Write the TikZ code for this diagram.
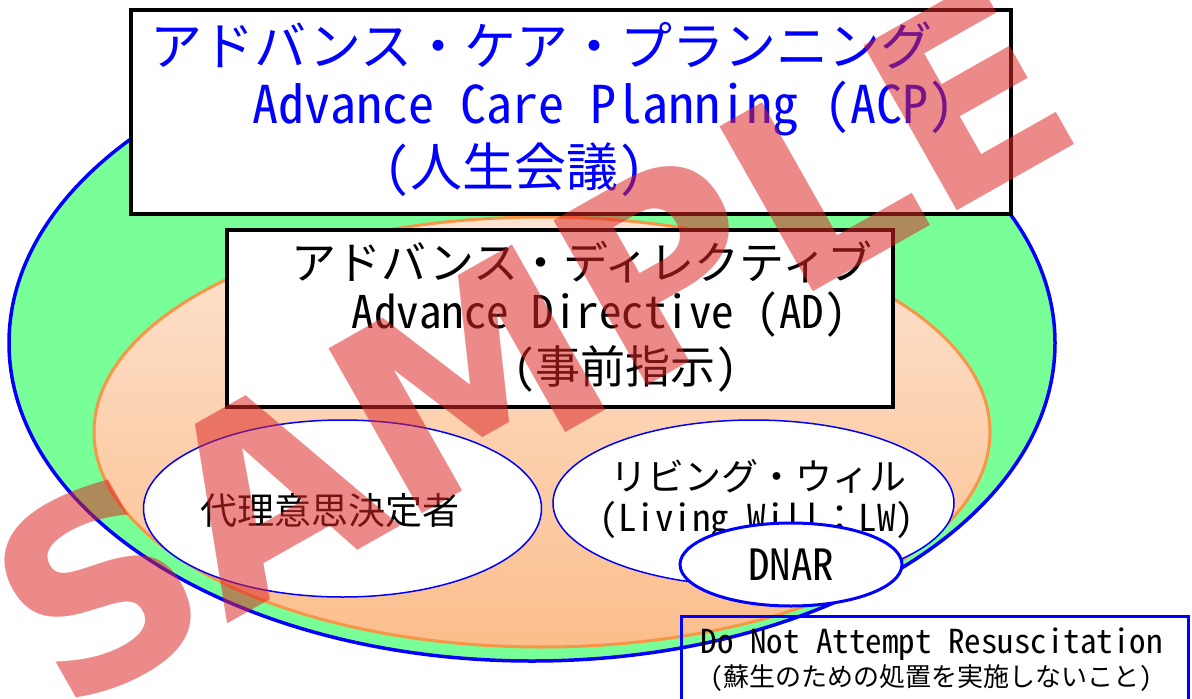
\documentclass[tikz,border=0pt]{standalone}
\usepackage{fontspec}
\usetikzlibrary{shapes.geometric}
\newfontfamily\jpfont{Noto Sans CJK JP}
\newfontfamily\halfw{Noto Sans CJK JP}[RawFeature=+hwid]
\newfontfamily\markfont{DejaVu Sans}
\newcommand\jpsize[1]{\fontsize{#1}{#1}\selectfont}
\definecolor{acpgreen}{RGB}{121,255,151}
\definecolor{adorange}{RGB}{247,150,70}
\definecolor{adtop}{RGB}{253,228,210}
\definecolor{adbottom}{RGB}{251,190,140}
\definecolor{markred}{RGB}{220,37,37}
\tikzset{font=\jpfont}
\tikzset{
  box/.style={rectangle, draw=black, line width=4pt, fill=white, inner sep=0},
  wish/.style={ellipse, draw=blue, line width=1.5pt, fill=white, inner sep=0},
  acpline/.style={inner sep=0, text=blue, font=\jpfont\jpsize{52}},
  adline/.style={inner sep=0, font=\jpfont\jpsize{45}},
  wishline/.style={inner sep=0, font=\jpfont\jpsize{37}},
}

\begin{document}
\begin{tikzpicture}[x=1pt, y=-1pt]
  \useasboundingbox[fill=white] (0,0) rectangle (1192,699);

  % the two zones
  \node[ellipse, draw=blue, line width=3.5pt, fill=acpgreen, inner sep=0,
    minimum width=1046pt, minimum height=636pt] (acpzone) at (532,343) {};
  \node[ellipse, draw=adorange, line width=3pt, top color=adtop,
    bottom color=adbottom, inner sep=0,
    minimum width=896pt, minimum height=430pt] (adzone) at (542,432) {};

  % ACP
  \node[box, minimum width=880pt, minimum height=204pt] (acp) at (571,112) {};
  \node[acpline] (acpjp) at (541.5,45) {アドバンス・ケア・プランニング};
  \node[acpline] (acpen) at (603,109) {\halfw Advance Care Planning (ACP)};
  \node[acpline] (acpkanji) at (514,170) {{\halfw(}人生会議{\halfw)}};

  % AD
  \node[box, minimum width=666pt, minimum height=177pt] (ad) at (560,318.5) {};
  \node[adline] (adjp) at (582,262) {アドバンス・ディレクティブ};
  \node[adline] (aden) at (599,315) {\halfw Advance Directive (AD)};
  \node[adline] (adkanji) at (625.5,369) {{\halfw(}事前指示{\halfw)}};

  % proxy and living will
  \node[wish, minimum width=398pt, minimum height=177pt] (proxy) at (342.5,508.5) {};
  \node[wishline] (proxytext) at (330,511) {代理意思決定者};
  \node[wish, minimum width=401pt, minimum height=166pt] (lw) at (753.5,503) {};
  \node[wishline] (lwjp) at (758.5,476) {リビング・ウィル};
  \node[wishline] (lwen) at (757,521) {{\halfw(Living Will}：{\halfw LW)}};

  \node[wish, line width=3pt, minimum width=222pt, minimum height=83pt,
    font=\halfw\jpsize{43}] (dnar) at (791,564.5) {DNAR};

  \node[rectangle, draw=blue, line width=3pt, inner sep=0,
    minimum width=507pt, minimum height=100pt] (dnbox) at (934.5,666) {};
  \node[inner sep=0, font=\halfw\jpsize{33}] (dnen) at (931.5,644)
    {Do Not Attempt Resuscitation};
  \node[inner sep=0, font=\jpfont\jpsize{26}] (dnjp) at (931.5,678)
    {{\halfw(}蘇生のための処置を実施しないこと{\halfw)}};

  % watermark
  \node[rotate=29.5, anchor=base west, inner sep=0, text=markred, opacity=0.54,
    font=\markfont\bfseries\jpsize{260}] (mark) at (63,716.5) {SAMPLE};
\end{tikzpicture}
\end{document}
